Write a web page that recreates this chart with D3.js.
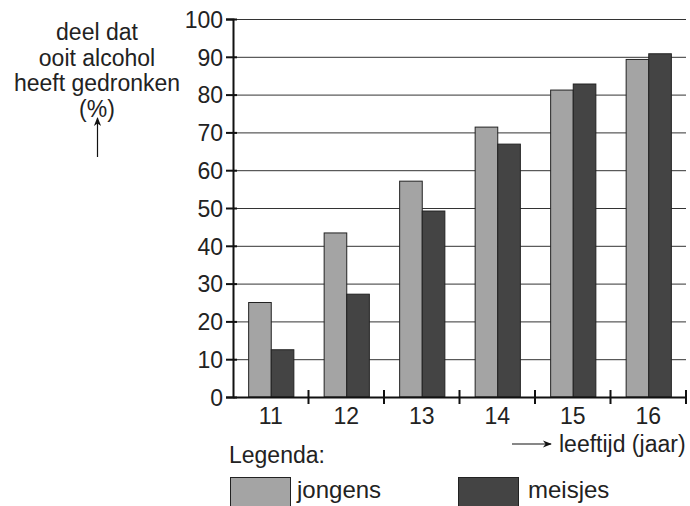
<!DOCTYPE html>
<html>
<head>
<meta charset="utf-8">
<script src="https://cdn.jsdelivr.net/npm/d3@7"></script>
<style>
  body { margin: 0; background: #fff; }
  text { font-family: "Liberation Sans", Arial, sans-serif; fill: #222; }
</style>
</head>
<body>
<svg id="chart" width="690" height="506"></svg>
<script>
var ages = ["11", "12", "13", "14", "15", "16"];
var series = ["jongens", "meisjes"];
var jongens = [25, 43.4, 57.1, 71.4, 81.2, 89.3];
var meisjes = [12.5, 27.2, 49.2, 66.9, 82.8, 90.8];
var yTicks = [0, 10, 20, 30, 40, 50, 60, 70, 80, 90, 100];
var titleLines = ["deel dat", "ooit alcohol", "heeft gedronken", "(%)"];

var colorOf = { jongens: "#a4a4a4", meisjes: "#444444" };
var values = { jongens: jongens, meisjes: meisjes };

var svg = d3.select("#chart");
var margin = { top: 19, left: 233 };
var plotRight = 686, plotBottom = 397;
var fontSize = "23px";

var defs = svg.append("defs");
defs.append("marker")
  .attr("id", "arrow")
  .attr("viewBox", "0 0 10 10")
  .attr("refX", 9).attr("refY", 5)
  .attr("markerWidth", 10).attr("markerHeight", 9)
  .attr("markerUnits", "userSpaceOnUse")
  .attr("orient", "auto")
  .append("path")
  .attr("d", "M0,1 L10,5 L0,9 L3,5 Z")
  .attr("fill", "#111");

var x = d3.scaleBand().domain(ages).range([margin.left, plotRight]).padding(0);
var xSub = d3.scaleBand().domain(series).range([0, x.bandwidth()]).paddingInner(0).paddingOuter(0.67);
var y = d3.scaleLinear().domain([0, 100]).range([plotBottom, margin.top]);

// gridlines
svg.append("g")
  .selectAll("line")
  .data(yTicks.filter(d => d > 0))
  .join("line")
  .attr("x1", margin.left)
  .attr("x2", plotRight)
  .attr("y1", d => y(d) + 0.5)
  .attr("y2", d => y(d) + 0.5)
  .attr("stroke", "#333")
  .attr("stroke-width", 1);

// bars
var groups = svg.append("g")
  .selectAll("g")
  .data(ages)
  .join("g")
  .attr("transform", d => `translate(${x(d)},0)`);

groups.selectAll("rect")
  .data((age, i) => series.map(s => ({ s: s, v: values[s][i] })))
  .join("rect")
  .attr("x", d => xSub(d.s) + 0.5)
  .attr("width", xSub.bandwidth())
  .attr("y", d => y(d.v))
  .attr("height", d => plotBottom - y(d.v))
  .attr("fill", d => colorOf[d.s])
  .attr("stroke", "#222")
  .attr("stroke-width", 1);

// y axis
var yAxis = svg.append("g")
  .attr("transform", `translate(${margin.left},0)`)
  .call(d3.axisLeft(y).tickValues(yTicks).tickSize(7).tickPadding(3));
yAxis.select(".domain").attr("stroke", "#111").attr("stroke-width", 2);
yAxis.selectAll(".tick line").attr("stroke", "#111").attr("stroke-width", 2).attr("x2", -7).attr("x1", 4);
yAxis.selectAll(".tick text")
  .style("font-size", fontSize)
  .style("font-family", "'Liberation Sans', Arial, sans-serif")
  .attr("fill", "#222")
  .attr("dy", "0.36em");

// x axis
var xAxis = svg.append("g")
  .attr("transform", `translate(0,${plotBottom})`)
  .call(d3.axisBottom(x).tickSize(0).tickPadding(11));
xAxis.select(".domain").attr("stroke", "#111").attr("stroke-width", 2);
xAxis.selectAll(".tick text")
  .style("font-size", fontSize)
  .style("font-family", "'Liberation Sans', Arial, sans-serif")
  .attr("fill", "#222");

// x boundary ticks crossing the axis
var bounds = ages.slice(1).map(a => x(a)).concat([plotRight]);
svg.append("g")
  .selectAll("line")
  .data(bounds)
  .join("line")
  .attr("x1", d => d).attr("x2", d => d)
  .attr("y1", plotBottom - 7).attr("y2", plotBottom + 7)
  .attr("stroke", "#111")
  .attr("stroke-width", 2);

// y title
svg.append("g")
  .selectAll("text")
  .data(titleLines)
  .join("text")
  .attr("x", 97)
  .attr("y", (d, i) => 40 + i * 25.6)
  .attr("text-anchor", "middle")
  .style("font-size", fontSize)
  .text(d => d);

svg.append("line")
  .attr("x1", 97.5).attr("x2", 97.5)
  .attr("y1", 157).attr("y2", 118)
  .attr("stroke", "#111").attr("stroke-width", 1.2)
  .attr("marker-end", "url(#arrow)");

// x title
svg.append("line")
  .attr("x1", 512).attr("x2", 551)
  .attr("y1", 444).attr("y2", 444)
  .attr("stroke", "#111").attr("stroke-width", 1.2)
  .attr("marker-end", "url(#arrow)");

svg.append("text")
  .attr("x", 559).attr("y", 452)
  .style("font-size", fontSize)
  .text("leeftijd (jaar)");

// legend
svg.append("text")
  .attr("x", 229).attr("y", 463)
  .style("font-size", fontSize)
  .text("Legenda:");

var legendX = { jongens: 230, meisjes: 458 };
var legend = svg.append("g")
  .selectAll("g")
  .data(series)
  .join("g")
  .attr("transform", d => `translate(${legendX[d]},477.5)`);

legend.append("rect")
  .attr("x", 0.5).attr("y", 0)
  .attr("width", 60).attr("height", 40)
  .attr("fill", d => colorOf[d])
  .attr("stroke", "#222");

legend.append("text")
  .attr("x", d => d === "jongens" ? 67 : 70)
  .attr("y", 20)
  .style("font-size", "24px")
  .text(d => d);
</script>
</body>
</html>
